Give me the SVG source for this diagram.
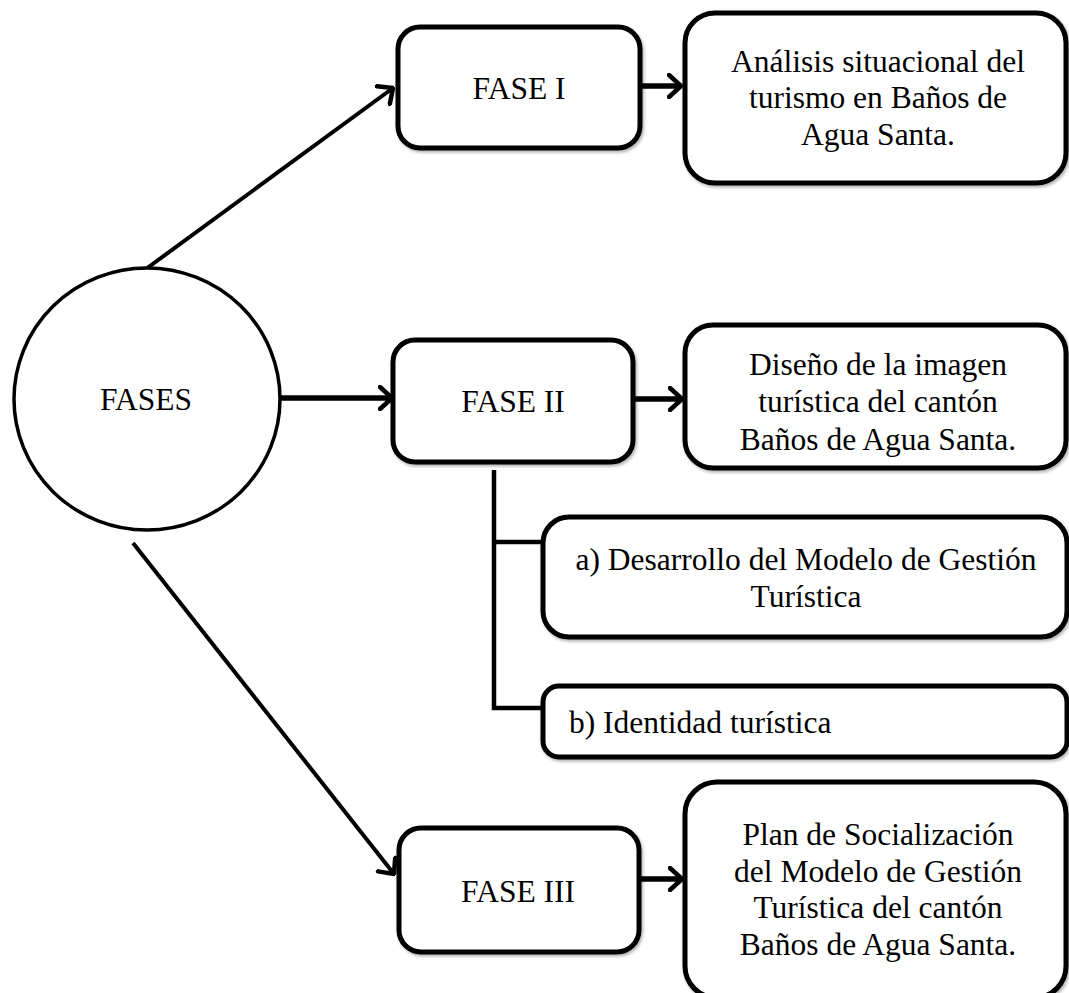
<svg xmlns="http://www.w3.org/2000/svg" width="1069" height="993" viewBox="0 0 1069 993">
<style>
.box{fill:#fff;stroke:#000;stroke-width:5;filter:url(#sh)}
.ln{fill:none;stroke:#000;stroke-width:4;stroke-linecap:butt}
.arr{fill:none;stroke:#000;stroke-width:5.5}
text{font-family:"Liberation Serif","Times New Roman",serif;font-size:31.5px;fill:#000}
.c{text-anchor:middle}
</style>
<defs>
<filter id="sh" x="-10%" y="-10%" width="120%" height="130%">
<feDropShadow dx="1.5" dy="2" stdDeviation="1.5" flood-color="#000" flood-opacity="0.3"/>
</filter>
<marker id="ah" viewBox="0 0 16 26" refX="14" refY="13" markerWidth="16" markerHeight="26" markerUnits="userSpaceOnUse" orient="auto">
<path d="M2,2 L14,13 L2,24" fill="none" stroke="#000" stroke-width="4.5" stroke-linecap="round" stroke-linejoin="round"/>
</marker>
</defs>
<rect width="1069" height="993" fill="#fff"/>
<g id="connectors">
<line class="ln" x1="135" y1="277" x2="393" y2="88" marker-end="url(#ah)"/>
<line class="ln" x1="133" y1="543" x2="394" y2="874" marker-end="url(#ah)"/>
<line class="arr" x1="281" y1="398" x2="392" y2="398" marker-end="url(#ah)"/>
<line class="arr" x1="640" y1="86" x2="681" y2="86" marker-end="url(#ah)"/>
<line class="arr" x1="633" y1="399" x2="682" y2="399" marker-end="url(#ah)"/>
<line class="arr" x1="639" y1="879" x2="682" y2="879" marker-end="url(#ah)"/>
<polyline class="ln" points="494,470 494,708 543,708" style="stroke-width:4.5"/>
<line class="ln" x1="494" y1="542" x2="543" y2="542" style="stroke-width:4.5"/>
</g>
<g id="fases">
<ellipse cx="147" cy="399" rx="133" ry="131" fill="#fff" stroke="#000" stroke-width="3.5"/>
<text class="c" x="146" y="410">FASES</text>
</g>
<g id="fase1">
<rect class="box" x="398" y="27" width="242" height="121" rx="22"/>
<text class="c" x="519" y="99">FASE I</text>
</g>
<g id="analisis">
<rect class="box" x="685" y="13" width="381" height="170" rx="30"/>
<text class="c" x="878" y="72">Análisis situacional del</text>
<text class="c" x="878" y="108">turismo en Baños de</text>
<text class="c" x="878" y="145">Agua Santa.</text>
</g>
<g id="fase2">
<rect class="box" x="393" y="340" width="240" height="122" rx="22"/>
<text class="c" x="513" y="412">FASE II</text>
</g>
<g id="diseno">
<rect class="box" x="685" y="325" width="381" height="143" rx="28"/>
<text class="c" x="878" y="375">Diseño de la imagen</text>
<text class="c" x="878" y="412">turística del cantón</text>
<text class="c" x="878" y="450">Baños de Agua Santa.</text>
</g>
<g id="modelo">
<rect class="box" x="543" y="517" width="524" height="120" rx="26"/>
<text class="c" x="806" y="570">a) Desarrollo del Modelo de Gestión</text>
<text class="c" x="806" y="607">Turística</text>
</g>
<g id="identidad">
<rect class="box" x="543" y="686" width="524" height="71" rx="16"/>
<text x="569" y="733">b) Identidad turística</text>
</g>
<g id="fase3">
<rect class="box" x="399" y="828" width="240" height="124" rx="22"/>
<text class="c" x="518" y="902">FASE III</text>
</g>
<g id="plan">
<rect class="box" x="685" y="782" width="381" height="216" rx="32"/>
<text class="c" x="878" y="845">Plan de Socialización</text>
<text class="c" x="878" y="882">del Modelo de Gestión</text>
<text class="c" x="878" y="918">Turística del cantón</text>
<text class="c" x="878" y="955">Baños de Agua Santa.</text>
</g>
</svg>
